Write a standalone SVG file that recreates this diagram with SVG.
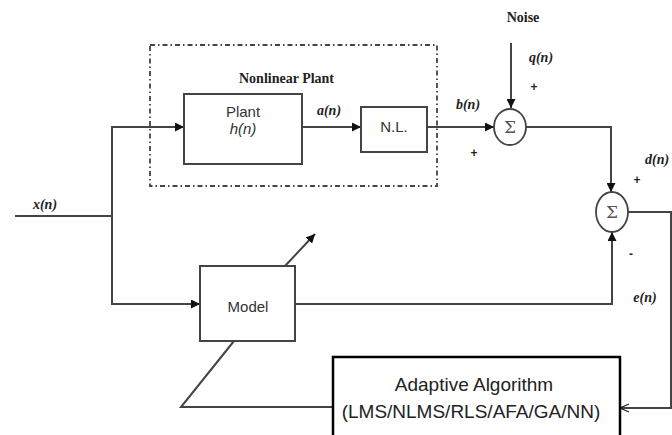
<svg xmlns="http://www.w3.org/2000/svg" width="672" height="435" viewBox="0 0 672 435">
<defs>
<marker id="ah" viewBox="0 0 10 10" refX="10" refY="5" markerWidth="9" markerHeight="9" markerUnits="userSpaceOnUse" orient="auto">
<path d="M0,0 L10,5 L0,10 z" fill="#111"/>
</marker>
<marker id="oh" viewBox="0 0 10 10" refX="10" refY="5" markerWidth="10" markerHeight="10" markerUnits="userSpaceOnUse" orient="auto">
<path d="M1,1 L10,5 L1,9" fill="none" stroke="#222" stroke-width="1.2"/>
</marker>
</defs>
<style>
.ln{fill:none;stroke:#444;stroke-width:2}
.box{fill:#fff;stroke:#444;stroke-width:2}
.sum{fill:#fff;stroke:#444;stroke-width:1.8}
.sig{font-family:"Liberation Serif",serif;font-weight:bold;font-style:italic;font-size:14px;fill:#222}
.bl{font-family:"Liberation Serif",serif;font-weight:bold;font-size:14px;fill:#222}
.pm{font-family:"Liberation Sans",sans-serif;font-weight:bold;font-size:12px;fill:#222}
.bt{font-family:"Liberation Sans",sans-serif;font-size:15px;fill:#333}
.sg{font-family:"DejaVu Serif",serif;font-size:17px;fill:#555}
.at{font-family:"Liberation Sans",sans-serif;font-size:19px;fill:#222}
</style>
<rect width="672" height="435" fill="#fff"/>
<g id="plant-group">
<rect x="150" y="45" width="287" height="141" fill="none" stroke="#444" stroke-width="1.8" stroke-dasharray="5,3,1.5,3"/>
<text class="bl" x="239" y="83">Nonlinear Plant</text>
</g>
<g id="connectors">
<path class="ln" d="M15,216 H112"/>
<path class="ln" d="M112,216 V127 H184" marker-end="url(#ah)"/>
<path class="ln" d="M112,216 V304 H200" marker-end="url(#ah)"/>
<path class="ln" d="M302,127 H361" marker-end="url(#ah)"/>
<path class="ln" d="M427,127 H494" marker-end="url(#ah)"/>
<path class="ln" d="M511,43 V108" marker-end="url(#ah)"/>
<path class="ln" d="M526,127 H611 V192" marker-end="url(#ah)"/>
<path class="ln" d="M295,304 H612 V232" marker-end="url(#ah)"/>
<path class="ln" d="M628,212 H671 V408 H620" marker-end="url(#oh)" stroke-width="1.6"/>
<path class="ln" d="M285,266 L315,234" marker-end="url(#ah)"/>
<path class="ln" d="M234,341 L181,407 H333" stroke-width="1.6"/>
</g>
<g id="plant">
<rect class="box" x="184" y="94" width="118" height="70"/>
<text class="bt" x="243" y="117" text-anchor="middle">Plant</text>
<text class="bt" x="243" y="134" text-anchor="middle" font-style="italic">h(n)</text>
</g>
<g id="nl">
<rect class="box" x="361" y="107" width="66" height="45"/>
<text class="bt" x="394" y="132" text-anchor="middle" font-size="14">N.L.</text>
</g>
<g id="sum1">
<ellipse class="sum" cx="510" cy="127" rx="16" ry="18"/>
<text class="sg" x="510" y="133" text-anchor="middle">Σ</text>
</g>
<g id="sum2">
<ellipse class="sum" cx="612" cy="212" rx="16" ry="20"/>
<text class="sg" x="612" y="218" text-anchor="middle">Σ</text>
</g>
<g id="model">
<rect class="box" x="200" y="266" width="95" height="75"/>
<text class="bt" x="248" y="312" text-anchor="middle">Model</text>
</g>
<g id="adaptive">
<rect x="333" y="357" width="287" height="92" fill="#fff" stroke="#000" stroke-width="2.5"/>
<text class="at" x="474" y="391" text-anchor="middle">Adaptive Algorithm</text>
<text class="at" x="471" y="418" text-anchor="middle">(LMS/NLMS/RLS/AFA/GA/NN)</text>
</g>
<g id="labels">
<text class="sig" x="45" y="209" text-anchor="middle">x(n)</text>
<text class="sig" x="329" y="115" text-anchor="middle">a(n)</text>
<text class="sig" x="468" y="109" text-anchor="middle">b(n)</text>
<text class="bl" x="523" y="22" text-anchor="middle">Noise</text>
<text class="sig" x="541" y="62" text-anchor="middle">q(n)</text>
<text class="pm" x="534" y="91" text-anchor="middle">+</text>
<text class="pm" x="474" y="157" text-anchor="middle">+</text>
<text class="sig" x="645" y="164">d(n)</text>
<text class="pm" x="637" y="184" text-anchor="middle">+</text>
<text class="pm" x="631" y="258" text-anchor="middle">-</text>
<text class="sig" x="645" y="302" text-anchor="middle">e(n)</text>
</g>
</svg>
